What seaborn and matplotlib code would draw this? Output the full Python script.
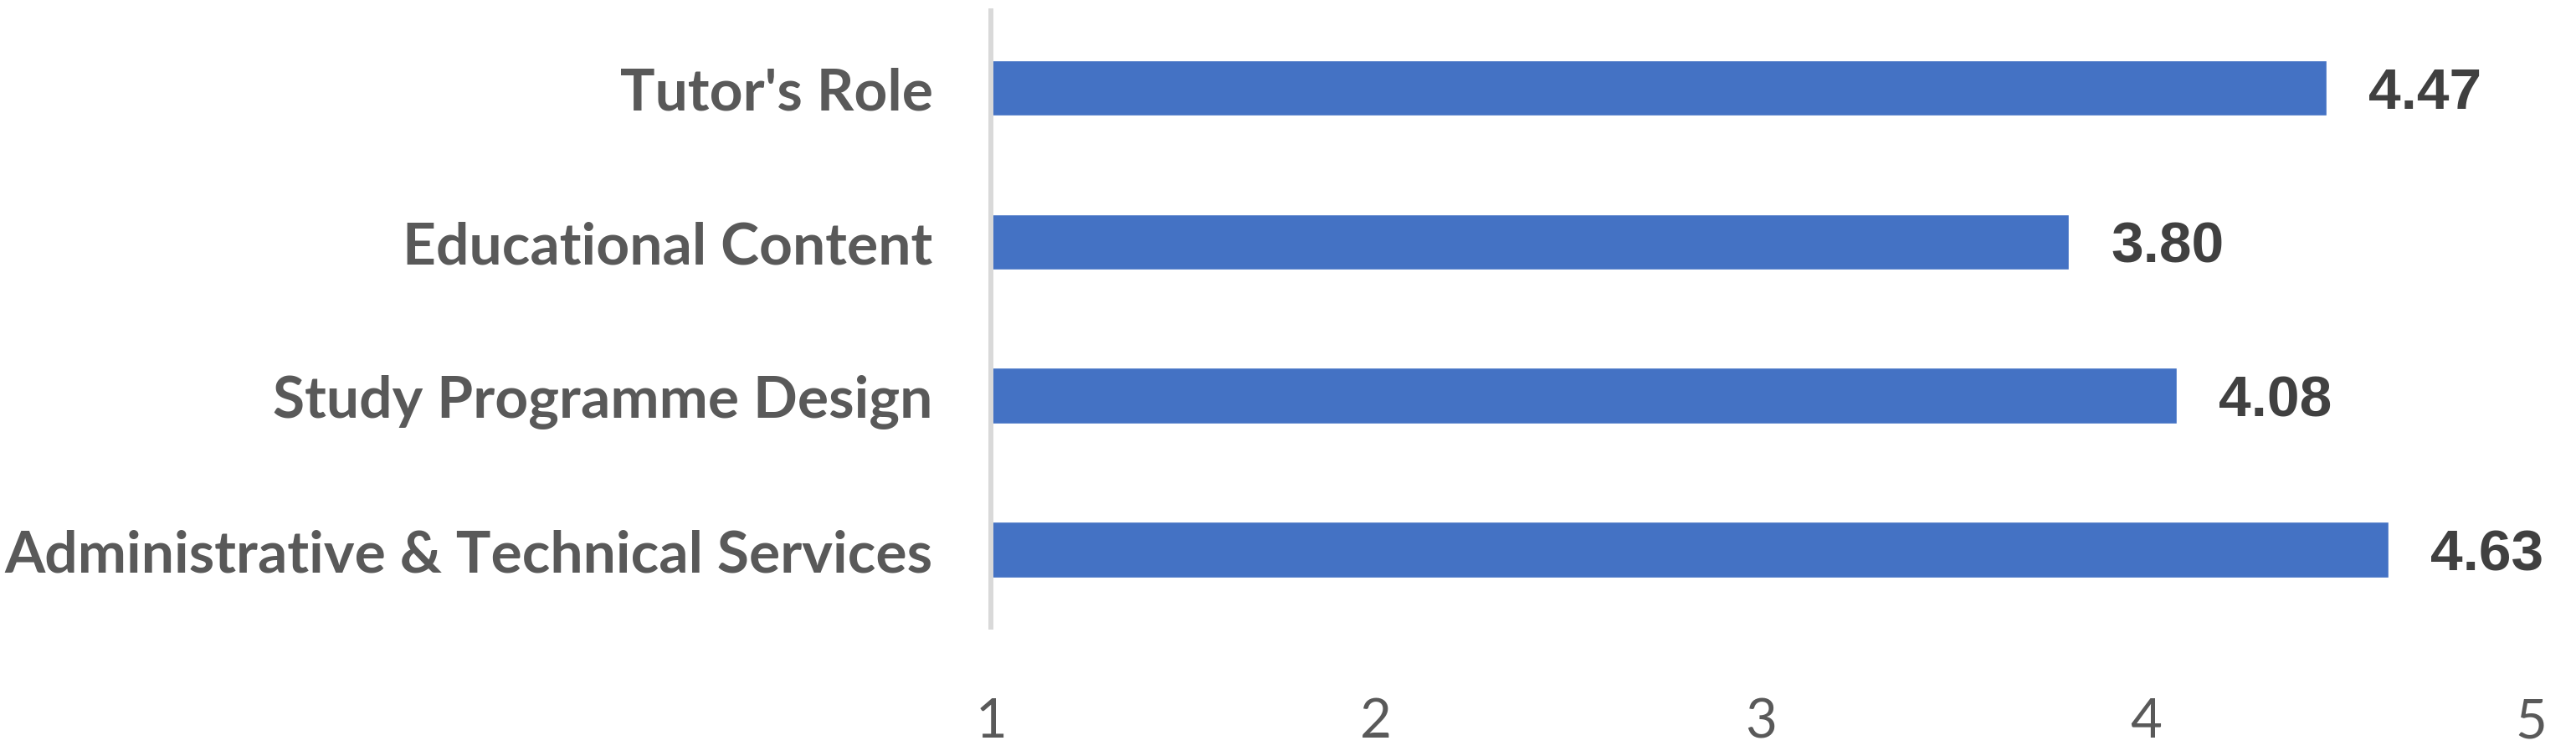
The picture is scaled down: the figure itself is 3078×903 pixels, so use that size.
"""Horizontal bar chart: mean satisfaction scores per evaluation area."""

import matplotlib
matplotlib.use("Agg")
import matplotlib.pyplot as plt
import pandas as pd
import seaborn as sns

# Data
categories = [
    "Tutor's Role",
    "Educational Content",
    "Study Programme Design",
    "Administrative & Technical Services",
]
scores = [4.47, 3.80, 4.08, 4.63]
x_ticks = [1, 2, 3, 4, 5]

BAR_COLOR = "#4472C4"
LABEL_GRAY = "#595959"
VALUE_GRAY = "#404040"

df = pd.DataFrame({"area": categories, "score": scores})

sns.set_style("white")
plt.rcParams["font.family"] = ["Lato", "DejaVu Sans"]

fig = plt.figure(figsize=(30.78, 9.04), dpi=100)
ax = fig.add_axes([0.3847, 0.1704, 0.9825 - 0.3847, 0.9845 - 0.1704])

sns.barplot(data=df, x="score", y="area", orient="h", color=BAR_COLOR,
            width=0.364, saturation=1, ax=ax)

# bars start at 1 in the original (axis crosses at 1)
ax.set_xlim(1, 5)
ax.set_ylim(3.5, -0.5)
ax.set_xticks(x_ticks)
ax.set_xticklabels([str(t) for t in x_ticks], fontsize=47, color=LABEL_GRAY)
ax.tick_params(axis="x", length=0, pad=60)
ax.tick_params(axis="y", length=0, pad=50)
for lbl in ax.get_yticklabels():
    lbl.set_fontsize(50)
    lbl.set_fontweight("bold")
    lbl.set_color(LABEL_GRAY)

ax.set_xlabel("")
ax.set_ylabel("")
for side in ["top", "right", "bottom"]:
    ax.spines[side].set_visible(False)
ax.spines["left"].set_color("#D9D9D9")
ax.spines["left"].set_linewidth(4.3)

for i, v in enumerate(scores):
    ax.annotate(f"{v:.2f}", xy=(v, i), xytext=(36, -4), textcoords="offset points",
                va="center", ha="left", fontsize=50, fontweight="bold",
                color=VALUE_GRAY, family=["Liberation Sans", "DejaVu Sans"])

fig.savefig("out.png", dpi=100)
